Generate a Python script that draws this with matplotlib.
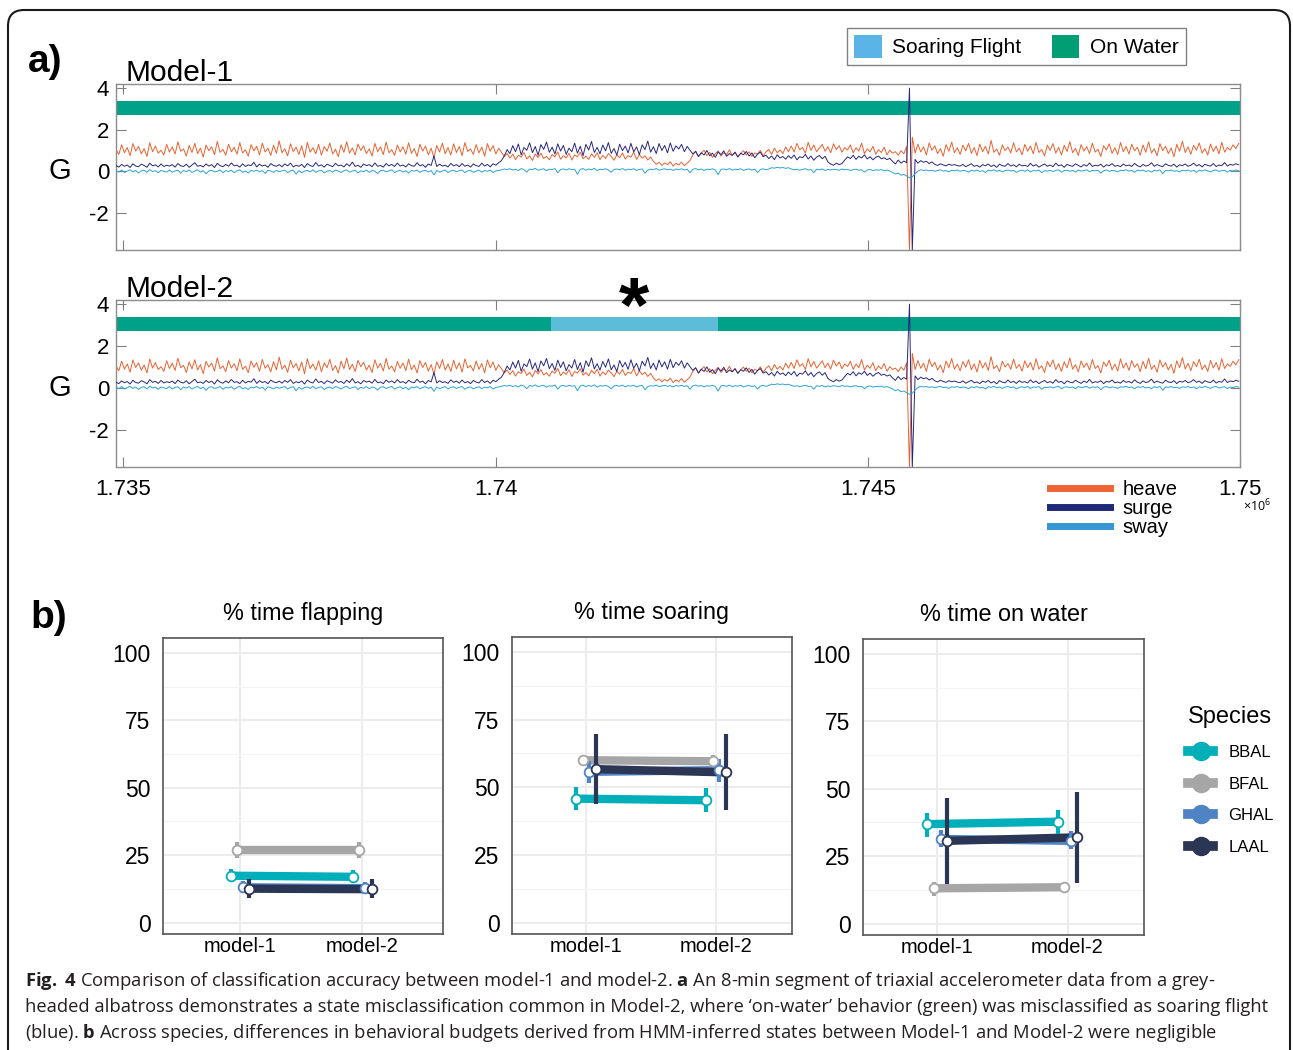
import numpy as np
import matplotlib
matplotlib.use('Agg')
import matplotlib.pyplot as plt
from matplotlib.lines import Line2D
from matplotlib.patches import Patch, FancyBboxPatch
from matplotlib.transforms import IdentityTransform, blended_transform_factory

plt.rcParams['font.family'] = ['Liberation Sans', 'DejaVu Sans']
plt.rcParams['axes.unicode_minus'] = False
plt.rcParams['mathtext.fontset'] = 'custom'
plt.rcParams['mathtext.rm'] = 'Open Sans'
plt.rcParams['mathtext.it'] = 'Open Sans:italic'
plt.rcParams['mathtext.bf'] = 'Open Sans:bold'

# Colors
HEAVE_C = '#E9622F'
SURGE_C = '#26287E'
SWAY_C = '#2BA3D6'
STATE_C = {'On Water': '#00A189', 'Soaring Flight': '#5BBDD8'}
STATE_LEG_C = {'Soaring Flight': '#5AB4E5', 'On Water': '#009E73'}
SPECIES_C = ['#00AFB9', '#A6A6A6', '#4F83C4', '#2B3554']

# ---- panel a: accelerometer segment (downsampled, one value every SAMPLE_STEP samples)
SAMPLE_START = 1734900
SAMPLE_STEP = 37.8

heave = [
    1.05, 0.82, 1.28, 0.90, 1.15, 0.76, 1.34, 0.98, 1.20, 0.85, 1.10, 0.72, 1.38, 0.95, 1.22, 0.88, 1.02, 0.79, 1.30, 0.93,
    1.18, 0.84, 1.42, 0.97, 1.08, 0.74, 1.25, 0.91, 1.35, 0.86, 1.12, 0.69, 1.27, 1.00, 1.19, 0.81, 1.44, 0.92, 1.06, 0.78,
    1.31, 0.95, 1.16, 0.83, 1.39, 0.89, 1.04, 0.73, 1.29, 0.99, 1.21, 0.80, 1.36, 0.94, 1.11, 0.77, 1.26, 0.87, 1.47, 0.90,
    1.09, 0.75, 1.33, 0.96, 1.17, 0.82, 1.24, 0.68, 1.40, 0.93, 1.14, 0.85, 1.30, 0.78, 1.20, 0.97, 1.37, 0.84, 1.07, 0.71,
    1.28, 0.92, 1.43, 0.88, 1.13, 0.79, 1.32, 1.01, 1.23, 0.86, 1.09, 0.74, 1.35, 0.95, 1.18, 0.81, 1.41, 0.90, 1.05, 0.77,
    1.27, 0.94, 1.19, 0.83, 1.38, 0.87, 1.10, 0.72, 1.31, 0.98, 1.22, 0.80, 1.12, 0.66, 1.25, 0.93, 1.36, 0.85, 1.15, 0.79,
    1.33, 0.91, 1.20, 0.76, 1.39, 0.96, 1.08, 0.82, 1.29, 0.89, 1.17, 0.73, 1.34, 0.97, 1.24, 0.84, 1.11, 0.92, 0.72, 0.86,
    0.64, 0.83, 0.57, 0.78, 0.69, 0.91, 0.60, 0.75, 0.53, 0.84, 0.67, 0.88, 0.62, 0.73, 0.56, 0.81, 0.70, 0.94, 0.59, 0.76,
    0.65, 0.87, 0.55, 0.79, 0.71, 0.92, 0.61, 0.74, 0.58, 0.85, 0.68, 0.90, 0.57, 0.77, 0.63, 0.86, 0.72, 0.54, 0.80, 0.66,
    0.89, 0.60, 0.76, 0.69, 0.93, 0.58, 0.82, 0.64, 0.75, 0.55, 0.70, 0.48, 0.35, 0.44, 0.29, 0.41, 0.33, 0.47, 0.26, 0.39,
    0.31, 0.45, 0.28, 0.40, 0.52, 0.80, 0.96, 0.71, 0.88, 1.02, 0.76, 0.92, 0.68, 0.85, 0.99, 0.74, 0.90, 0.81, 1.04, 0.77,
    0.93, 0.70, 0.87, 1.00, 0.79, 0.95, 0.72, 0.89, 0.83, 1.01, 0.75, 0.94, 1.06, 0.82, 1.12, 0.90, 1.03, 0.86, 1.18, 0.95,
    1.22, 0.93, 1.35, 1.04, 1.16, 0.88, 1.40, 1.01, 1.27, 0.95, 1.12, 1.30, 0.97, 1.19, 0.90, 1.33, 1.05, 1.24, 0.92, 1.15,
    1.03, 1.28, 0.89, 1.14, 0.98, 1.36, 0.86, 1.09, 0.94, 1.21, 0.83, 1.05, 0.91, 1.17, 0.80, 1.02, 0.88, 0.95, 0.78, 1.00,
    0.85, 1.20, -3.80, 1.65, 0.88, 1.31, 0.94, 1.18, 0.79, 1.37, 1.02, 1.23, 0.86, 1.10, 0.73, 1.29, 0.97, 1.41, 0.90, 1.14,
    0.82, 1.26, 0.99, 1.35, 0.87, 1.15, 0.76, 1.32, 0.95, 1.21, 0.84, 1.49, 0.92, 1.08, 0.78, 1.28, 1.00, 1.17, 0.89, 1.38,
    0.94, 1.12, 0.80, 1.30, 0.97, 1.22, 0.85, 1.40, 0.91, 1.06, 0.74, 1.27, 1.01, 1.34, 0.88, 1.16, 0.79, 1.25, 0.96, 1.43,
    0.90, 1.11, 0.77, 1.29, 0.98, 1.19, 0.86, 1.36, 0.93, 1.07, 0.72, 1.24, 1.03, 1.33, 0.87, 1.14, 0.81, 1.39, 0.95, 1.20,
    0.84, 1.31, 0.99, 1.16, 0.78, 1.27, 0.92, 1.42, 0.89, 1.09, 0.75, 1.34, 1.00, 1.21, 0.86, 1.13, 0.70, 1.30, 0.97, 1.45,
    0.91, 1.18, 0.83, 1.26, 1.02, 1.37, 0.88, 1.10, 0.79, 1.32, 0.96, 1.22, 0.85, 1.40, 0.93, 1.15, 1.03, 1.28, 1.10, 1.35,
]
surge = [
    0.28, 0.21, 0.34, 0.25, 0.31, 0.19, 0.37, 0.26, 0.23, 0.35, 0.29, 0.20, 0.40, 0.27, 0.32, 0.22, 0.36, 0.24, 0.30, 0.26,
    0.33, 0.21, 0.38, 0.27, 0.24, 0.35, 0.20, 0.31, 0.42, 0.25, 0.29, 0.22, 0.36, 0.26, 0.33, 0.19, 0.39, 0.28, 0.23, 0.34,
    0.25, 0.41, 0.27, 0.30, 0.21, 0.37, 0.24, 0.32, 0.28, 0.44, 0.22, 0.35, 0.26, 0.31, 0.20, 0.38, 0.29, 0.25, 0.33, 0.23,
    0.36, 0.27, 0.40, 0.22, 0.30, 0.25, 0.34, 0.19, 0.38, 0.28, 0.24, 0.43, 0.26, 0.32, 0.21, 0.35, 0.29, 0.23, 0.39, 0.27,
    0.31, 0.22, 0.37, 0.26, 0.45, 0.24, 0.30, 0.20, 0.36, 0.28, 0.33, 0.23, 0.41, 0.25, 0.29, 0.21, 0.38, 0.27, 0.34, 0.24,
    0.40, 0.26, 0.31, 0.22, 0.37, 0.28, 0.25, 0.42, 0.27, 0.33, 0.20, 0.36, 0.29, 0.74, 0.24, 0.35, 0.26, 0.30, 0.22, 0.39,
    0.27, 0.33, 0.23, 0.38, 0.25, 0.31, 0.21, 0.36, 0.28, 0.24, 0.40, 0.26, 0.34, 0.22, 0.37, 0.30, 0.42, 0.52, 0.75, 1.05,
    0.86, 1.24, 0.95, 1.32, 0.80, 1.15, 1.02, 1.38, 0.90, 1.20, 0.78, 1.29, 1.06, 1.41, 0.92, 1.17, 0.84, 1.33, 0.98, 1.25,
    0.82, 1.12, 0.95, 1.36, 0.88, 1.21, 0.76, 1.30, 1.03, 1.44, 0.91, 1.16, 0.85, 1.27, 0.99, 1.39, 0.87, 1.10, 0.79, 1.31,
    1.00, 1.22, 0.89, 1.35, 0.94, 1.18, 0.81, 1.28, 1.05, 1.46, 0.93, 1.19, 0.86, 1.34, 1.01, 1.25, 0.90, 1.37, 0.97, 1.23,
    1.08, 1.30, 0.95, 1.20, 1.02, 0.84, 0.97, 0.72, 0.90, 0.79, 1.01, 0.75, 0.88, 0.68, 0.94, 0.81, 0.99, 0.73, 0.86, 0.77,
    0.92, 0.70, 0.87, 0.80, 0.96, 0.74, 0.89, 0.66, 0.83, 0.93, 0.71, 0.78, 0.62, 0.74, 0.57, 0.80, 0.65, 0.72, 0.59, 0.76,
    0.63, 0.79, 0.56, 0.71, 0.66, 0.82, 0.60, 0.74, 0.54, 0.69, 0.77, 0.61, 0.73, 0.46, 0.36, 0.30, 0.40, 0.33, 0.38, 0.55,
    0.70, 0.62, 0.78, 0.58, 0.73, 0.65, 0.80, 0.60, 0.71, 0.56, 0.68, 0.74, 0.61, 0.66, 0.57, 0.63, 0.48, 0.36, 0.55, 0.40,
    0.50, 0.42, 4.00, -3.80, 0.58, 0.40, 0.52, 0.44, 0.49, 0.38, 0.46, 0.34, 0.29, 0.37, 0.31, 0.27, 0.35, 0.30, 0.33, 0.28,
    0.26, 0.34, 0.23, 0.30, 0.37, 0.25, 0.29, 0.21, 0.33, 0.27, 0.36, 0.24, 0.31, 0.20, 0.35, 0.28, 0.25, 0.38, 0.26, 0.32,
    0.22, 0.35, 0.27, 0.30, 0.24, 0.39, 0.26, 0.33, 0.21, 0.29, 0.36, 0.25, 0.31, 0.23, 0.40, 0.27, 0.32, 0.20, 0.34, 0.28,
    0.25, 0.37, 0.29, 0.22, 0.33, 0.26, 0.41, 0.24, 0.30, 0.27, 0.35, 0.21, 0.32, 0.28, 0.38, 0.25, 0.29, 0.23, 0.36, 0.27,
    0.31, 0.24, 0.39, 0.28, 0.22, 0.34, 0.26, 0.30, 0.42, 0.25, 0.33, 0.27, 0.23, 0.37, 0.29, 0.26, 0.35, 0.21, 0.32, 0.28,
    0.36, 0.25, 0.30, 0.40, 0.27, 0.33, 0.22, 0.35, 0.29, 0.26, 0.38, 0.24, 0.31, 0.28, 0.43, 0.26, 0.34, 0.30, 0.37, 0.32,
]
sway = [
    0.04, -0.03, 0.07, -0.05, 0.02, 0.08, -0.02, 0.05, -0.07, 0.03, 0.06, -0.04, 0.09, 0.00, 0.04, -0.06, 0.05, 0.01, -0.03, 0.07,
    -0.04, 0.03, 0.06, -0.08, 0.05, -0.01, 0.07, -0.05, 0.02, 0.08, -0.03, 0.04, -0.11, 0.03, 0.06, -0.02, 0.01, 0.07, -0.06, 0.04,
    0.00, 0.06, -0.06, 0.03, 0.08, -0.04, 0.02, -0.07, 0.05, 0.01, 0.07, -0.02, 0.04, -0.09, 0.06, 0.02, -0.04, 0.05, -0.01, 0.03,
    0.07, -0.05, 0.03, 0.06, -0.13, 0.04, -0.06, 0.02, 0.05, -0.02, 0.08, -0.04, 0.03, 0.06, -0.07, 0.01, 0.05, -0.03, 0.07, 0.02,
    -0.05, 0.04, 0.08, -0.03, 0.02, 0.06, -0.07, 0.03, -0.01, 0.07, -0.04, 0.05, 0.01, -0.10, 0.04, 0.06, -0.02, 0.03, 0.08, -0.05,
    0.02, 0.06, -0.03, 0.04, -0.08, 0.05, 0.01, 0.07, -0.04, 0.03, 0.06, -0.02, 0.04, -0.16, 0.05, -0.03, 0.02, 0.07, -0.05, 0.03,
    0.06, -0.02, 0.04, 0.07, -0.06, 0.03, 0.05, -0.04, 0.02, 0.06, -0.03, 0.04, 0.01, 0.07, -0.05, 0.03, 0.05, 0.08, 0.12, 0.09,
    0.13, 0.07, 0.11, 0.05, 0.14, 0.09, -0.03, 0.12, 0.08, 0.15, 0.06, 0.10, 0.13, 0.04, 0.11, 0.09, 0.14, -0.06, 0.10, 0.12,
    0.07, 0.13, 0.09, 0.11, -0.13, 0.10, 0.14, 0.06, 0.12, 0.08, 0.15, 0.04, 0.11, 0.09, 0.13, 0.07, -0.04, 0.10, 0.12, 0.08,
    0.14, 0.06, 0.11, 0.09, 0.13, 0.05, 0.10, 0.12, -0.08, 0.07, 0.11, 0.09, 0.14, 0.06, 0.10, 0.13, 0.08, 0.11, 0.05, 0.12,
    0.09, 0.13, 0.07, 0.11, -0.06, 0.10, 0.14, 0.08, 0.12, 0.05, 0.11, 0.09, 0.13, 0.07, -0.15, 0.10, 0.12, 0.08, 0.14, 0.06,
    0.11, 0.09, 0.13, 0.05, 0.10, 0.12, 0.07, 0.11, -0.05, 0.09, 0.13, 0.08, 0.12, 0.18, 0.16, 0.20, 0.17, 0.19, 0.15, 0.18,
    0.12, 0.08, 0.11, 0.06, 0.10, 0.13, 0.07, 0.09, -0.06, 0.11, 0.08, 0.12, 0.05, 0.10, 0.07, 0.11, 0.09, 0.06, 0.12, 0.08,
    0.10, 0.05, 0.09, 0.11, 0.06, 0.08, -0.03, 0.07, 0.10, 0.04, 0.08, 0.06, 0.09, 0.03, 0.07, 0.02, -0.05, -0.12, -0.08, -0.18,
    -0.14, -0.22, -0.30, -0.26, -0.10, 0.02, 0.08, 0.05, 0.07, 0.03, 0.06, 0.01, 0.05, 0.08, 0.02, 0.04, -0.02, 0.06, 0.03, 0.07,
    0.01, 0.05, 0.03, -0.03, 0.06, 0.02, 0.07, 0.00, 0.04, -0.05, 0.06, 0.03, 0.08, 0.01, 0.05, -0.02, 0.04, 0.07, 0.02, 0.05,
    -0.04, 0.03, 0.06, 0.01, 0.08, -0.02, 0.05, 0.03, 0.07, -0.06, 0.04, 0.02, 0.06, 0.00, 0.05, 0.08, -0.03, 0.04, 0.06, 0.01,
    0.05, -0.03, 0.07, 0.02, 0.04, 0.08, -0.01, 0.05, 0.03, 0.06, -0.08, 0.04, 0.07, 0.01, 0.05, 0.03, -0.02, 0.06, 0.04, 0.08,
    0.02, 0.05, -0.04, 0.06, 0.03, 0.07, 0.00, 0.04, -0.03, 0.06, 0.02, 0.08, -0.11, 0.05, 0.03, 0.07, 0.01, 0.04, -0.02, 0.06,
    0.03, 0.07, 0.01, 0.05, -0.04, 0.06, 0.02, 0.08, 0.03, -0.02, 0.05, 0.07, 0.00, 0.04, 0.06, -0.03, 0.05, 0.02, 0.07, 0.04,
]

# HMM states (label, first sample, last sample)
model1_states = [('On Water', 1734900, 1750000)]
model2_states = [('On Water', 1734900, 1740747),
                 ('Soaring Flight', 1740747, 1742987),
                 ('On Water', 1742987, 1750000)]
BAND = (2.70, 3.40)

X_TICKS = [1735000, 1740000, 1745000, 1750000]
X_TICKLABELS = ['1.735', '1.74', '1.745', '1.75']

# ---- panel b: behavioural budgets (% time), per species, [model-1, model-2]
SPECIES = ['BBAL', 'BFAL', 'GHAL', 'LAAL']
MODELS = ['model-1', 'model-2']

flap_mean = [[17.4, 17.0], [27.0, 27.0], [13.1, 12.8], [12.6, 12.4]]
flap_lo = [[15.3, 15.0], [24.0, 24.0], [11.0, 10.8], [9.3, 9.0]]
flap_hi = [[20.0, 19.5], [30.0, 30.0], [15.3, 15.0], [16.0, 16.0]]

soar_mean = [[45.8, 45.2], [60.0, 59.6], [55.7, 56.3], [56.7, 55.5]]
soar_lo = [[41.6, 40.7], [58.8, 58.5], [51.5, 52.0], [43.7, 41.6]]
soar_hi = [[50.1, 49.6], [61.2, 62.0], [59.6, 60.4], [69.6, 69.6]]

water_mean = [[36.9, 37.8], [13.1, 13.5], [31.4, 30.7], [30.7, 32.0]]
water_lo = [[32.2, 33.3], [10.4, 12.5], [28.3, 27.6], [14.7, 15.1]]
water_hi = [[40.9, 42.2], [15.5, 14.5], [34.8, 34.2], [46.5, 48.9]]

W, H = 1293, 1050


def fig_rect(left, top, right, bottom):
    return [left / W, 1 - bottom / H, (right - left) / W, (bottom - top) / H]


def accel_panel(ax, states, show_xlabels):
    for name, t0, t1 in states:
        ax.broken_barh([(t0, t1 - t0)], (BAND[0], BAND[1] - BAND[0]),
                       facecolors=STATE_C[name], zorder=1)
    t = SAMPLE_START + SAMPLE_STEP * np.arange(len(heave))
    ax.plot(t, heave, color=HEAVE_C, lw=0.7, zorder=2)
    ax.plot(t, surge, color=SURGE_C, lw=0.7, zorder=3)
    ax.plot(t, sway, color=SWAY_C, lw=0.7, zorder=4)
    ax.set_xlim(1734900, 1750000)
    ax.set_ylim(-3.77, 4.2)
    ax.set_yticks([-2, 0, 2, 4])
    ax.set_xticks(X_TICKS)
    ax.set_xticklabels(X_TICKLABELS if show_xlabels else [])
    ax.tick_params(direction='in', length=7, width=0.8, top=True, right=True,
                   color='#808080', labelsize=16)
    ax.tick_params(axis='y', pad=5)
    ax.tick_params(axis='x', pad=9)
    for s in ax.spines.values():
        s.set_color('#8C8C8C')
        s.set_linewidth(1.0)
    tr = blended_transform_factory(ax.transAxes, ax.transData)
    ax.text(-0.05, 0, 'G', transform=tr, fontsize=21, ha='center', va='center')


def budget_panel(ax, title, mean, lo, hi, xlim):
    for i, sp in enumerate(SPECIES):
        x = np.arange(1, 3) + (i - 1.5) * 0.05
        c = SPECIES_C[i]
        ax.plot(x, mean[i], color=c, lw=6, solid_capstyle='butt', zorder=3)
        ax.vlines(x, lo[i], hi[i], color=c, lw=3, zorder=4)
        ax.plot(x, mean[i], 'o', mfc='white', mec=c, ms=7, mew=1.3, zorder=5)
    ax.set_xlim(*xlim)
    ax.set_ylim(-4.2, 105.5)
    ax.set_xticks([1, 2])
    ax.set_xticklabels(MODELS)
    ax.set_yticks([0, 25, 50, 75, 100])
    ax.set_yticks([12.5, 37.5, 62.5, 87.5], minor=True)
    ax.grid(which='major', color='#EBEBEB', lw=1.3)
    ax.grid(which='minor', axis='y', color='#F3F3F3', lw=0.8)
    ax.set_axisbelow(True)
    ax.tick_params(which='both', length=0)
    ax.tick_params(axis='y', labelsize=16.5, pad=9)
    ax.tick_params(axis='x', labelsize=14.5, pad=2)
    for s in ax.spines.values():
        s.set_color('#555555')
        s.set_linewidth(1.2)
    ax.set_title(title, fontsize=16.8, pad=13)


fig = plt.figure(figsize=(W / 100, H / 100), dpi=100)

# outer rounded frame
frame = FancyBboxPatch((8, -40), 1282, 1080, boxstyle='round,pad=0,rounding_size=16',
                       transform=IdentityTransform(), facecolor='none',
                       edgecolor='#1A1A1A', lw=1.5)
fig.patches.append(frame)

ax1 = fig.add_axes(fig_rect(116, 84, 1240, 250))
ax2 = fig.add_axes(fig_rect(116, 300, 1240, 467))
accel_panel(ax1, model1_states, False)
accel_panel(ax2, model2_states, True)

fig.text(28 / W, 1 - 62 / H, 'a)', fontsize=28, fontweight='bold', va='center')
fig.text(126 / W, 1 - 81 / H, 'Model-1', fontsize=21.5, va='baseline')
fig.text(126 / W, 1 - 297 / H, 'Model-2', fontsize=21.5, va='baseline')
fig.text(634 / W, 1 - 311 / H, '*', fontsize=56, fontweight='bold', ha='center', va='center')
fig.text(1243 / W, 1 - 498 / H, r'$\times10^{6}$', fontsize=9, va='top')

state_handles = [Patch(facecolor=STATE_LEG_C[k], label=k) for k in ['Soaring Flight', 'On Water']]
leg1 = fig.legend(handles=state_handles, ncol=2, loc='center',
                  bbox_to_anchor=(1016.5 / W, 1 - 46.5 / H), fontsize=15,
                  frameon=True, fancybox=False, edgecolor='#808080', framealpha=1,
                  handlelength=1.3, handleheight=1.35, handletextpad=0.5,
                  columnspacing=1.5, borderpad=0.35)
leg1.get_frame().set_linewidth(1.0)

axis_handles = [Line2D([], [], color=c, lw=5, label=l)
                for c, l in zip(['#EE6433', '#1F2A78', '#3497D3'], ['heave', 'surge', 'sway'])]
fig.legend(handles=axis_handles, loc='upper left', bbox_to_anchor=(1040 / W, 1 - 470 / H),
           fontsize=14.5, frameon=False, handlelength=3.0, handletextpad=0.6,
           labelspacing=0.0, borderpad=0)

# panel b
bx1 = fig.add_axes(fig_rect(163, 638, 443, 934))
bx2 = fig.add_axes(fig_rect(512, 637, 792, 934))
bx3 = fig.add_axes(fig_rect(863, 639, 1144, 935))
budget_panel(bx1, '% time flapping', flap_mean, flap_lo, flap_hi, (0.367, 2.66))
budget_panel(bx2, '% time soaring', soar_mean, soar_lo, soar_hi, (0.43, 2.587))
budget_panel(bx3, '% time on water', water_mean, water_lo, water_hi, (0.43, 2.587))

fig.text(30 / W, 1 - 618 / H, 'b)', fontsize=28, fontweight='bold', va='center')

sp_handles = [Line2D([], [], color=c, lw=7, marker='o', ms=13, mfc=c, mec=c, label=s)
              for c, s in zip(SPECIES_C, SPECIES)]
leg3 = fig.legend(handles=sp_handles, loc='upper left', bbox_to_anchor=(1180 / W, 1 - 698 / H),
                  title='Species', title_fontsize=17, fontsize=12, frameon=False,
                  handlelength=1.5, handletextpad=0.9, labelspacing=1.0,
                  alignment='left', borderpad=0)

# caption
caption = [
    r'$\mathbf{Fig.\ 4}$ Comparison of classification accuracy between model-1 and model-2. '
    r'$\mathbf{a}$ An 8-min segment of triaxial accelerometer data from a grey-',
    'headed albatross demonstrates a state misclassification common in Model-2, '
    'where \u2018on-water\u2019 behavior (green) was misclassified as soaring flight',
    r'(blue). $\mathbf{b}$ Across species, differences in behavioral budgets derived from '
    'HMM-inferred states between Model-1 and Model-2 were negligible',
]
cap_texts = [fig.text(25 / W, 1 - y / H, line, fontsize=14, family='Open Sans',
                      color='#231F20', va='baseline')
             for line, y in zip(caption, [986, 1012, 1038])]
renderer = fig.canvas.get_renderer()
width = cap_texts[1].get_window_extent(renderer).width
for t in cap_texts:
    t.set_fontsize(14 * 1247 / width)

fig.savefig('out.png', dpi=100)
